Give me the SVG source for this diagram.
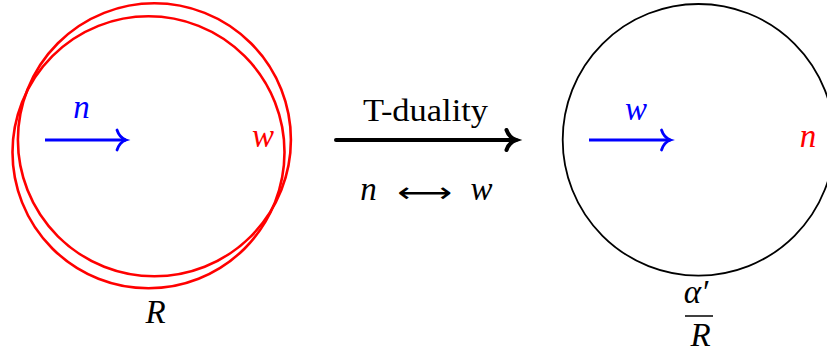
<svg xmlns="http://www.w3.org/2000/svg" width="827" height="356" viewBox="0 0 827 356">
<style>
.m{font-family:"Liberation Serif","DejaVu Serif",serif;font-style:italic;font-size:33px;text-anchor:middle}
.r{font-family:"Liberation Serif","DejaVu Serif",serif;font-size:31px;text-anchor:middle}
.blue{fill:#0000ff}
.red{fill:#ff0000}
.blk{fill:#000}
.rc{fill:none;stroke:#ff0000;stroke-width:2.6}
.bc{fill:none;stroke:#000;stroke-width:1.8}
</style>
<defs>
<marker id="hb" markerUnits="userSpaceOnUse" markerWidth="20" markerHeight="26" viewBox="-12 -13 14 26" refX="0" refY="0" orient="auto" overflow="visible">
<path d="M -9 -10 C -7 -4 -3 -1 0 0 C -3 1 -7 4 -9 10" fill="none" stroke="#0000ff" stroke-width="2.8" stroke-linecap="round"/>
</marker>
<marker id="hk" markerUnits="userSpaceOnUse" markerWidth="20" markerHeight="26" viewBox="-12 -13 14 26" refX="0" refY="0" orient="auto" overflow="visible">
<path d="M -9.5 -10 C -7.5 -4 -3 -1 0 0 C -3 1 -7.5 4 -9.5 10" fill="none" stroke="#000" stroke-width="4" stroke-linecap="round"/>
</marker>
</defs>
<g id="left-circle">
<circle class="rc" cx="154.4" cy="139.8" r="136.5"/>
<circle class="rc" cx="148.5" cy="152.3" r="136"/>
<text class="m red" x="263" y="147">w</text>
<text class="m blk" x="155.5" y="323">R</text>
</g>
<g id="right-circle">
<circle class="bc" cx="698.5" cy="139.8" r="135.8"/>
<text class="m red" x="808" y="147">n</text>
<text class="m blk" x="696" y="303">α′</text>
<line x1="685" y1="316" x2="713" y2="316" stroke="#000" stroke-width="1.5"/>
<text class="m blk" x="700.5" y="346">R</text>
</g>
<g id="tduality">
<text class="r blk" x="425.5" y="121" textLength="125" lengthAdjust="spacingAndGlyphs">T-duality</text>
<text class="m blk" x="368.5" y="200">n</text>
<text x="424.5" y="202" font-family="DejaVu Sans,sans-serif" font-size="28" text-anchor="middle" textLength="55" lengthAdjust="spacingAndGlyphs">⟷</text>
<text class="m blk" x="481.5" y="200">w</text>
</g>
<g id="labels">
<text class="m blue" x="81.5" y="118">n</text>
<text class="m blue" x="636" y="120">w</text>
</g>
<g id="connectors">
<line x1="45" y1="140" x2="126" y2="140" stroke="#0000ff" stroke-width="2.8" marker-end="url(#hb)"/>
<line x1="589" y1="140" x2="670.5" y2="140" stroke="#0000ff" stroke-width="2.8" marker-end="url(#hb)"/>
<line x1="336" y1="140" x2="516" y2="140" stroke="#000" stroke-width="4" stroke-linecap="round" marker-end="url(#hk)"/>
</g>
</svg>
